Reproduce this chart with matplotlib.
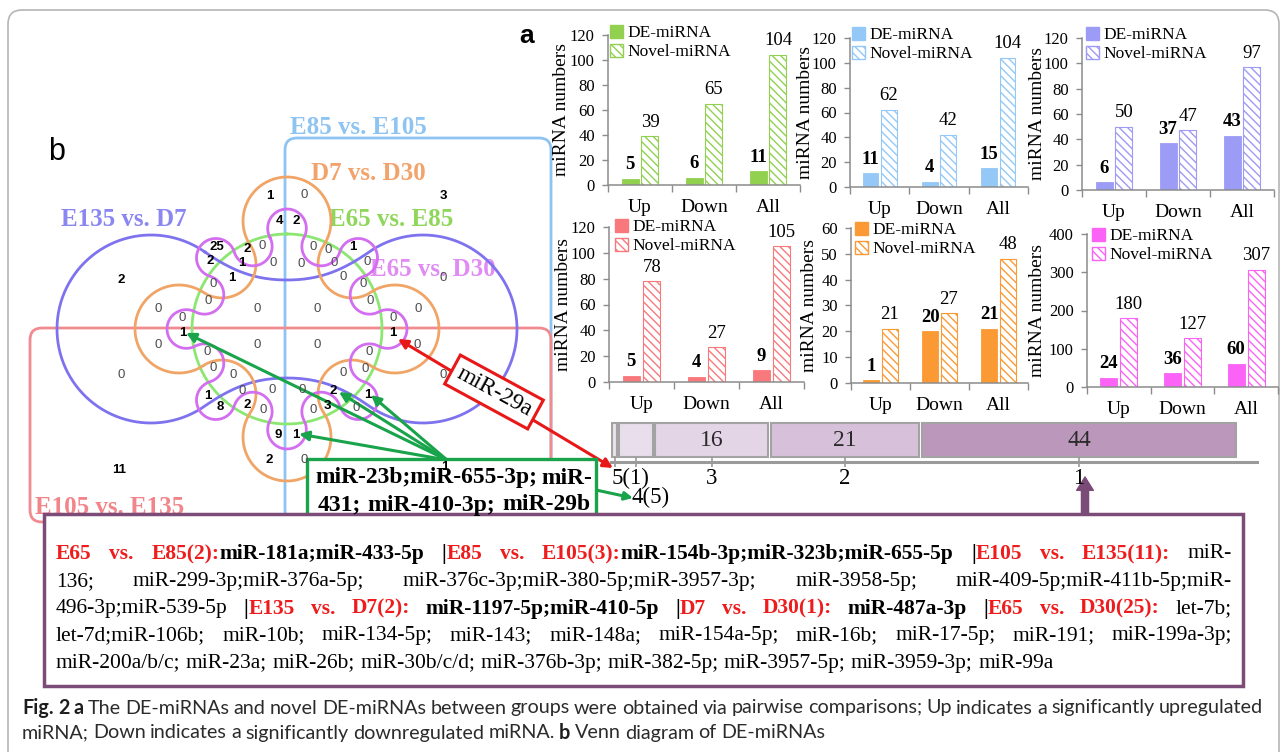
import numpy as np
import matplotlib
matplotlib.use("Agg")
import matplotlib.pyplot as plt
from matplotlib.patches import FancyBboxPatch, Rectangle, Patch

plt.rcParams["hatch.linewidth"] = 1.0

W, H = 1287, 752
SERIF = "Liberation Serif"
SANS = "Liberation Sans"
GRAY = "#8c8c8c"

# -----------------------------
# (a) DE / novel miRNA counts per pairwise comparison
# -----------------------------
categories = ["Up", "Down", "All"]
de_green, novel_green = [5, 6, 11], [39, 65, 104]
de_sky, novel_sky = [11, 4, 15], [62, 42, 104]
de_violet, novel_violet = [6, 37, 43], [50, 47, 97]
de_salmon, novel_salmon = [5, 4, 9], [78, 27, 105]
de_orange, novel_orange = [1, 20, 21], [21, 27, 48]
de_magenta, novel_magenta = [24, 36, 60], [180, 127, 307]

# strip: miRNAs shared by n comparisons
strip_counts = [1, 5, 16, 21, 44]
strip_labels = ["5(1)", "4(5)", "3", "2", "1"]

# -----------------------------
# (b) Venn region counts
# -----------------------------
venn_counts = [1, 4, 2, 25, 2, 0, 2, 1, 0, 1, 0, 0, 0, 0, 0, 2,
               0, 0, 0, 1, 0, 0, 0, 0, 0, 0, 0, 0, 0, 0, 3,
               1, 0, 0, 0, 0, 0, 0, 2, 1, 0, 0, 3, 0, 1, 0, 1,
               1, 0, 0, 0, 0, 0, 0, 0, 1, 8, 2, 0, 9, 2, 0, 11]
# where each region number sits (pixel layout of the diagram)
venn_label_xy = [(270, 196), (279, 221), (296, 221), (217, 247), (247, 249), (262, 246),
                 (210, 261), (242, 263), (273, 263), (232, 278), (213, 284), (208, 301),
                 (158, 309), (182, 318), (257, 309), (121, 280),
                 (304, 195), (313, 247), (328, 250), (353, 247), (301, 264), (334, 263),
                 (367, 262), (343, 277), (363, 284), (443, 278), (370, 301), (317, 309),
                 (418, 309), (393, 318), (443, 196),
                 (393, 333), (317, 345), (417, 345), (369, 352), (343, 373), (365, 369),
                 (302, 390), (333, 391), (368, 395), (443, 375), (313, 410), (327, 406),
                 (356, 408), (296, 435), (304, 460), (445, 467),
                 (183, 333), (158, 345), (257, 345), (207, 352), (213, 368), (233, 375),
                 (242, 391), (272, 390), (208, 396), (220, 407), (247, 405), (263, 410),
                 (278, 435), (269, 460), (121, 375), (119, 470)]

fig = plt.figure(figsize=(W / 100, H / 100), dpi=100)
base = fig.add_axes([0, 0, 1, 1])
base.set_xlim(0, W)
base.set_ylim(H, 0)
base.axis("off")
renderer = fig.canvas.get_renderer()

# outer frame
base.add_patch(FancyBboxPatch((8, 10), 1271, 770, boxstyle="round,pad=0,rounding_size=14",
                              fc="none", ec="#b5b5b5", lw=1.2))


# -----------------------------
# bar panels
# -----------------------------
def bar_panel(box, color, de, novel, ymax, ystep, ylab_dx, leg_xy):
    left, top, right, bottom = box
    ax = fig.add_axes([left / W, 1 - bottom / H, (right - left) / W, (bottom - top) / H])
    ax.patch.set_alpha(0)
    pos = np.arange(len(categories)) + 0.5
    ax.bar(pos - 0.156, de, 0.266, color=color, edgecolor=color, linewidth=0.6)
    ax.bar(pos + 0.156, novel, 0.266, facecolor="white", edgecolor=color,
           hatch="\\\\\\\\", linewidth=0.8)
    for x, v in zip(pos - 0.156, de):
        ax.annotate(str(v), (x, v), xytext=(0, 4), textcoords="offset points", ha="center",
                    va="bottom", fontsize=13.5, fontweight="bold", family=SERIF,
                    annotation_clip=False)
    for x, v in zip(pos + 0.156, novel):
        ax.annotate(str(v), (x, v), xytext=(0, 4), textcoords="offset points", ha="center",
                    va="bottom", fontsize=13.5, family=SERIF, annotation_clip=False)
    ax.set_xlim(0, 3)
    ax.set_ylim(0, ymax)
    ax.set_yticks(np.arange(0, ymax + 1, ystep))
    for lab in ax.get_yticklabels():
        lab.set_family(SERIF)
    ax.tick_params(axis="y", direction="out", length=4.5, width=1, color=GRAY, pad=5,
                   labelsize=12)
    ax.set_xticks([0, 1, 2, 3])
    ax.set_xticklabels([])
    ax.set_xticks(pos, minor=True)
    ax.set_xticklabels(categories, minor=True, family=SERIF)
    ax.tick_params(axis="x", which="major", direction="out", length=5, width=1, color=GRAY)
    ax.tick_params(axis="x", which="minor", length=0, pad=10, labelsize=14)
    for s in ["top", "right"]:
        ax.spines[s].set_visible(False)
    for s in ["left", "bottom"]:
        ax.spines[s].set_color(GRAY)
        ax.spines[s].set_linewidth(1.1)
    ax.set_ylabel("miRNA numbers", family=SERIF, fontsize=14, va="center")
    ax.yaxis.set_label_coords(-ylab_dx / (right - left), 0.5)
    handles = [Patch(facecolor=color, edgecolor=color),
               Patch(facecolor="white", edgecolor=color, hatch="\\\\\\\\")]
    lx, ly = leg_xy
    ax.legend(handles, ["DE-miRNA", "Novel-miRNA"], loc="upper left",
              bbox_to_anchor=((lx - left) / (right - left), (bottom - ly) / (bottom - top)),
              borderpad=0, borderaxespad=0, frameon=False, handlelength=0.75,
              handleheight=0.75, handletextpad=0.25, labelspacing=0.15,
              prop={"family": SERIF, "size": 12.5})
    return ax


bar_panel((608, 35, 800, 185), "#92d050", de_green, novel_green, 120, 20, 46, (610, 25))
bar_panel((850, 38, 1028, 187), "#94c8f6", de_sky, novel_sky, 120, 20, 45, (852, 27))
bar_panel((1082, 38, 1274, 190), "#9c9bf5", de_violet, novel_violet, 120, 20, 44, (1086, 27))
bar_panel((609, 227, 804, 382), "#f8787c", de_salmon, novel_salmon, 120, 20, 45, (615, 219))
bar_panel((851, 228, 1028, 383), "#fb9a34", de_orange, novel_orange, 60, 10, 42, (855, 222))
bar_panel((1087, 234, 1278, 387), "#fb62f6", de_magenta, novel_magenta, 400, 100, 50, (1092, 228))

base.text(527, 36, "a", fontsize=19, fontweight="bold", family=SANS, ha="center", va="center")
base.text(57, 152, "b", fontsize=22, family=SANS, ha="center", va="center")

# -----------------------------
# strip of shared miRNAs
# -----------------------------
sax = fig.add_axes([611 / W, 1 - 462 / H, (1257 - 611) / W, (462 - 420) / H])
sax.patch.set_alpha(0)
strip_colors = ["#ebe3ec", "#e9deeb", "#e3d4e6", "#d7c1da", "#bb97bb"]
lefts = np.concatenate([[0], np.cumsum(strip_counts)[:-1]])
centers = lefts + np.array(strip_counts) / 2
sax.barh(0, np.array(strip_counts) - 0.35, left=lefts + 0.175, height=1, color=strip_colors,
         edgecolor="#a3a3a3", linewidth=1.5)
for c, v in zip(centers, strip_counts):
    if v >= 10:
        sax.text(c, 0, str(v), ha="center", va="center", fontsize=17, family=SERIF, color="#2a2a2a")
sax.set_xlim(0, (1257 - 611) / 7.2)
sax.set_ylim(-0.5 - 5 / 34, 0.5 + 3 / 34)
sax.set_yticks([])
sax.set_xticks(centers)
sax.set_xticklabels([])
sax.tick_params(axis="x", direction="inout", length=7, width=1.2, color="#9a9a9a")
for s in ["top", "left", "right"]:
    sax.spines[s].set_visible(False)
sax.spines["bottom"].set_color("#9a9a9a")
sax.spines["bottom"].set_linewidth(2.2)
offsets = [(-3, -6, "left"), (-5, -25, "left"), (0, -6, "center"), (0, -6, "center"), (0, -6, "center")]
for c, lab, (dx, dy, ha) in zip(centers, strip_labels, offsets):
    sax.annotate(lab, (c, 0), xycoords=("data", "axes fraction"), xytext=(dx, dy),
                 textcoords="offset pixels", ha=ha, va="top", fontsize=16.5, family=SERIF,
                 annotation_clip=False)

# -----------------------------
# Venn diagram (Edwards-style 6-set construction)
# -----------------------------
cx, cy = 287, 329


def to_px(pts):
    return cx + pts[:, 0], cy - pts[:, 1]


def circle_pts(r, n=720):
    t = np.linspace(0, 2 * np.pi, n)
    return np.column_stack([r * np.sin(t), r * np.cos(t)])


def bezier(p0, p1, p2, p3, n=40):
    t = np.linspace(0, 1, n)[:, None]
    return (1 - t) ** 3 * p0 + 3 * (1 - t) ** 2 * t * p1 + 3 * (1 - t) * t ** 2 * p2 + t ** 3 * p3


def arc(c, r, a0, a1, n=160):
    a = np.radians(np.linspace(a0, a1, n))
    return np.column_stack([c[0] + r * np.cos(a), c[1] + r * np.sin(a)])


def dumbbell(d=136, rad=94, waist=49, phi=55, k=35):
    L, R = np.array([-d, 0.0]), np.array([d, 0.0])
    a = np.radians(phi)
    pL = L + rad * np.array([np.cos(a), np.sin(a)])
    tL = np.array([np.sin(a), -np.cos(a)])
    top = np.array([0.0, waist])
    ul = bezier(pL, pL + k * tL, top - np.array([30.0, 0]), top)
    ur = ul[::-1] * [-1, 1]
    ra = arc(R, rad, 180 - phi, -(180 - phi))
    lr = ul * [-1, -1]
    ll = ul[::-1] * [1, -1]
    la = arc(L, rad, -phi, -360 + phi)
    return np.vstack([ul, ur, ra, lr, ll, la])


def lobed_ring(n, d_out, r_out, d_in, r_in, n_arc=60):
    m = 2 * n
    idx = np.arange(m)
    ang = np.radians(idx * 360 / m)
    d = np.where(idx % 2 == 0, d_out, d_in)
    rr = np.where(idx % 2 == 0, r_out, r_in)
    C = np.column_stack([d * np.sin(ang), d * np.cos(ang)])
    out = []
    for i in range(m):
        c, r = C[i], rr[i]
        cp, cn = C[i - 1], C[(i + 1) % m]
        jp = c + (cp - c) / np.linalg.norm(cp - c) * r
        jn = c + (cn - c) / np.linalg.norm(cn - c) * r
        a0 = np.arctan2(jp[1] - c[1], jp[0] - c[0])
        a1 = np.arctan2(jn[1] - c[1], jn[0] - c[0])
        if i % 2 == 0:   # outward lobe: clockwise about its centre
            while a1 >= a0:
                a1 -= 2 * np.pi
        else:            # inward lobe: counter-clockwise
            while a1 <= a0:
                a1 += 2 * np.pi
        a = np.linspace(a0, a1, n_arc)
        out.append(np.column_stack([c[0] + r * np.cos(a), c[1] + r * np.sin(a)]))
    out.append(out[0][:1])
    return np.vstack(out)


base.add_patch(FancyBboxPatch((285, 138), 266, 384, boxstyle="round,pad=0,rounding_size=12",
                              fc="none", ec="#8dc4f2", lw=2, zorder=1))
base.add_patch(FancyBboxPatch((30, 328), 521, 194, boxstyle="round,pad=0,rounding_size=12",
                              fc="none", ec="#f08b90", lw=2, zorder=1))
base.plot(*to_px(circle_pts(95)), color="#8be772", lw=2, zorder=2)
base.plot(*to_px(dumbbell()), color="#7e72ee", lw=2, zorder=2)
base.plot(*to_px(lobed_ring(4, 108, 44, 92, 34)), color="#f0a466", lw=2, zorder=2)
base.plot(*to_px(lobed_ring(8, 100.65, 19.35, 89.35, 19.35)), color="#d36ef0", lw=2, zorder=2)

venn_titles = [("E85 vs. E105", (358, 127), "#8dc4f2"), ("D7 vs. D30", (368, 173), "#f2a36b"),
               ("E65 vs. E85", (391, 219), "#8fd65a"), ("E135 vs. D7", (124, 220), "#8b87f2"),
               ("E65 vs. D30", (433, 270), "#e08cf2"), ("E105 vs. E135", (110, 508), "#f2858a")]
for name, (x, y), col in venn_titles:
    base.text(x, y, name, color=col, fontsize=18, fontweight="bold", family=SERIF,
              ha="center", va="center", zorder=1)

for v, (x, y) in zip(venn_counts, venn_label_xy):
    base.text(x, y, str(v), fontsize=9.5, family=SANS, ha="center", va="center", zorder=7,
              fontweight="bold" if v else "normal", color="black" if v else "#4d4d4d")

# arrows
green = "#19a34a"
for tx, ty in [(186, 333), (299, 434), (339, 392), (371, 395)]:
    base.annotate("", xy=(tx, ty), xytext=(447, 460),
                  arrowprops=dict(arrowstyle="-|>", color=green, lw=2.2, mutation_scale=14,
                                  shrinkA=0, shrinkB=0), zorder=4)
base.annotate("", xy=(633, 498), xytext=(596, 490),
              arrowprops=dict(arrowstyle="-|>", color=green, lw=2.2, mutation_scale=12,
                              shrinkA=0, shrinkB=0), zorder=4)
base.annotate("", xy=(398, 339), xytext=(613, 468),
              arrowprops=dict(arrowstyle="<|-|>", color="#e81818", lw=2.2, mutation_scale=14,
                              shrinkA=0, shrinkB=0), zorder=4)
base.text(494, 392, "miR-29a", rotation=-28.5, rotation_mode="anchor", ha="center", va="center",
          fontsize=17, family=SERIF, zorder=5,
          bbox=dict(boxstyle="square,pad=0.25", fc="white", ec="#e81818", lw=2.2))
base.annotate("", xy=(1085, 477), xytext=(1085, 515),
              arrowprops=dict(arrowstyle="simple,head_length=0.6,head_width=0.75,tail_width=0.32",
                              fc="#7b4b78", ec="#7b4b78", mutation_scale=16,
                              shrinkA=0, shrinkB=0), zorder=6)

# boxes
base.add_patch(Rectangle((307, 459), 289, 62, fc="white", ec=green, lw=2.4, zorder=5))
base.add_patch(Rectangle((44, 514), 1199, 172, fc="white", ec="#7d4b78", lw=2.5, zorder=5))


# -----------------------------
# mixed-style text lines (justified / fitted / natural)
# -----------------------------
def text_line(runs, y, x0, x1, size, family, styles, mode=None, space_em=0.25):
    tokens = []
    gap = False
    for txt, st in runs:
        for i, p in enumerate(txt.split(" ")):
            if i > 0:
                gap = True
            if p:
                tokens.append((p, st, gap and bool(tokens)))
                gap = False
    arts = []
    for p, st, _ in tokens:
        col, wt = styles[st]
        arts.append(base.text(x0, y, p, fontsize=size, family=family, color=col,
                              fontweight=wt, ha="left", va="center", zorder=8))
    ngaps = sum(1 for t in tokens if t[2])

    def measure():
        return [a.get_window_extent(renderer).width for a in arts]

    widths = measure()
    space = space_em * size * 100 / 72
    if mode == "fit" or (mode == "justify" and sum(widths) + ngaps * space * 0.6 > x1 - x0):
        keep = 1.0 if mode == "fit" else 0.6
        f = (x1 - x0) / (sum(widths) + ngaps * space * keep)
        size *= f
        for a in arts:
            a.set_fontsize(size)
        widths = measure()
        space = space_em * size * 100 / 72
    g = (x1 - x0 - sum(widths)) / max(ngaps, 1) if mode else space
    x = x0
    for (p, st, sp), a, w in zip(tokens, arts, widths):
        if sp:
            x += g
        a.set_x(x)
        x += w
    return size


box_styles = {"r": ("#ee1c1c", "bold"), "b": ("black", "bold"), "n": ("black", "normal")}
box_lines = [
    [("E65 vs. E85(2):", "r"), ("miR-181a;miR-433-5p |", "b"), ("E85 vs. E105(3):", "r"),
     ("miR-154b-3p;miR-323b;miR-655-5p |", "b"), ("E105 vs. E135(11):", "r"), (" miR-", "n")],
    [("136; miR-299-3p;miR-376a-5p; miR-376c-3p;miR-380-5p;miR-3957-3p; miR-3958-5p; "
      "miR-409-5p;miR-411b-5p;miR-", "n")],
    [("496-3p;miR-539-5p ", "n"), ("|", "b"), ("E135 vs. D7(2):", "r"),
     (" miR-1197-5p;miR-410-5p |", "b"), ("D7 vs. D30(1):", "r"), (" miR-487a-3p |", "b"),
     ("E65 vs. D30(25):", "r"), (" let-7b;", "n")],
    [("let-7d;miR-106b; miR-10b; miR-134-5p; miR-143; miR-148a; miR-154a-5p; miR-16b; "
      "miR-17-5p; miR-191; miR-199a-3p;", "n")],
    [("miR-200a/b/c; miR-23a; miR-26b; miR-30b/c/d; miR-376b-3p; miR-382-5p; miR-3957-5p; "
      "miR-3959-3p; miR-99a", "n")],
]
for i, runs in enumerate(box_lines):
    text_line(runs, 554 + 27.3 * i, 56, 1232, 15.5, SERIF, box_styles,
              mode="justify" if i < 4 else None)

text_line([("miR-23b;miR-655-3p; miR-", "b")], 478, 315, 592, 17, SERIF, box_styles, mode="justify")
text_line([("431; miR-410-3p; miR-29b", "b")], 505, 318, 590, 17, SERIF, box_styles, mode="justify")

cap_styles = {"B": ("#1e1e1e", "bold"), "N": ("#2b2b2b", "normal")}
cap_size = text_line([("Fig. 2", "B"), (" a", "B"),
                      (" The DE-miRNAs and novel DE-miRNAs between groups were obtained via pairwise "
                       "comparisons; Up indicates a significantly upregulated", "N")],
                     708, 22, 1263, 13, "Lato", cap_styles, mode="fit", space_em=0.22)
text_line([("miRNA; Down indicates a significantly downregulated miRNA. ", "N"), ("b", "B"),
           (" Venn diagram of DE-miRNAs", "N")], 733, 22, None, cap_size, "Lato", cap_styles,
          space_em=0.22)

fig.savefig("out.png", dpi=100)
